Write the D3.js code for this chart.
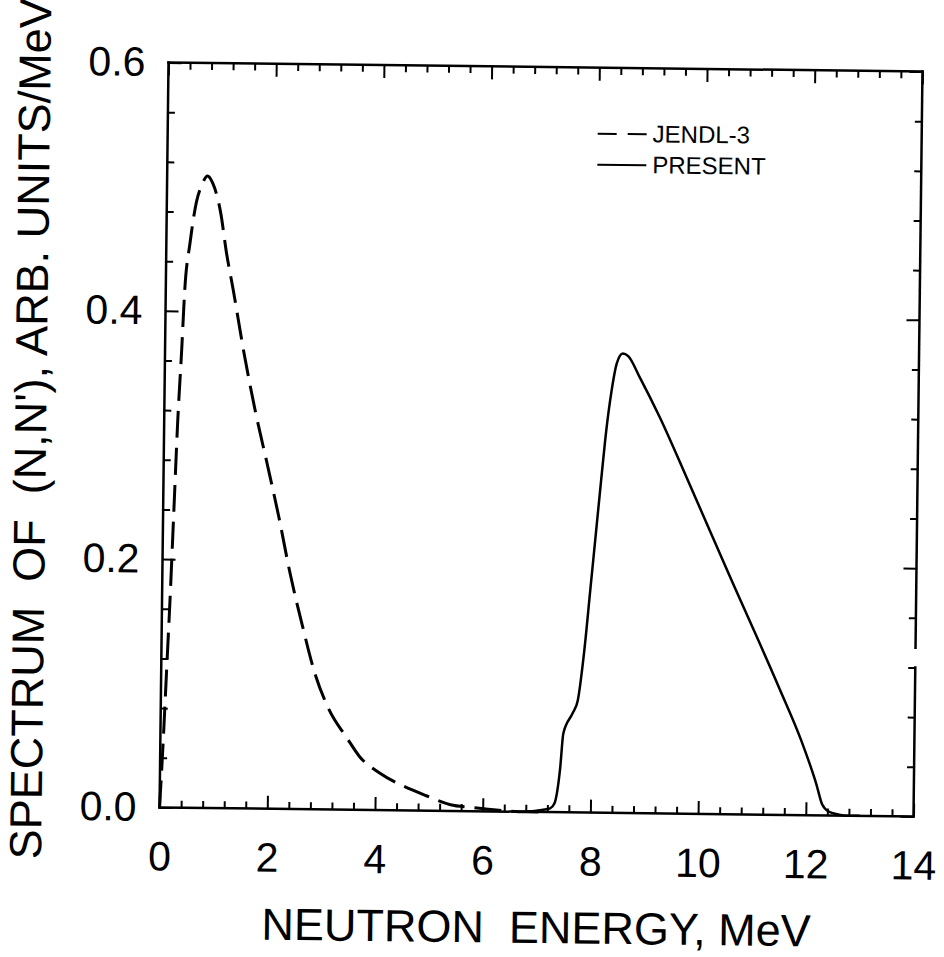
<!DOCTYPE html>
<html>
<head>
<meta charset="utf-8">
<script src="https://cdn.jsdelivr.net/npm/d3@7"></script>
<style>
  body { margin: 0; background: #fff; }
  text { font-family: "Liberation Sans", Arial, sans-serif; fill: #000; }
</style>
</head>
<body>
<div id="chart"></div>
<script>
// neutron energy (MeV) and spectrum values
const jendlE = [0, 0.05, 0.1, 0.15, 0.2, 0.25, 0.31, 0.35, 0.44, 0.55, 0.65, 0.75, 0.85, 1.0, 1.12, 1.25, 1.47, 1.7, 1.92, 2.15, 2.37, 2.61, 2.85, 3.13, 3.46, 3.7, 4.07, 4.5, 4.95, 5.4, 5.8, 6.3, 6.8, 7.2];
const jendlV = [0, 0.05, 0.11, 0.17, 0.24, 0.31, 0.37, 0.415, 0.455, 0.488, 0.502, 0.509, 0.503, 0.48, 0.447, 0.418, 0.366, 0.318, 0.278, 0.235, 0.19, 0.148, 0.11, 0.08, 0.058, 0.043, 0.03, 0.02, 0.012, 0.005, 0.003, 0.001, 0, 0];

const presentE = [6.8, 7.0, 7.15, 7.25, 7.33, 7.43, 7.48, 7.65, 7.74, 7.85, 7.95, 8.05, 8.13, 8.21, 8.3, 8.39, 8.5, 8.6, 8.82, 9.2, 9.71, 10.5, 11.48, 11.9, 12.19, 12.3, 12.43, 12.6, 12.75, 13.0];
const presentV = [0, 0.001, 0.002, 0.003, 0.007, 0.036, 0.0635, 0.08, 0.09, 0.13, 0.18, 0.23, 0.27, 0.308, 0.34, 0.362, 0.37, 0.368, 0.351, 0.319, 0.271, 0.195, 0.102, 0.06, 0.025, 0.009, 0.003, 0.001, 0, 0];

const xMajor = [0, 2, 4, 6, 8, 10, 12, 14];
const yMajor = [0, 0.2, 0.4, 0.6];
const legendLabels = ["JENDL-3", "PRESENT"];

window.onload = () => {
  const W = 944, H = 957;
  const left = 164, right = 918, top = 67, bottom = 812;

  const svg = d3.select("#chart").append("svg")
    .attr("width", W)
    .attr("height", H);

  // the scanned figure is tilted slightly clockwise
  const g = svg.append("g")
    .attr("transform", `rotate(0.69, 542, 440)`);

  const x = d3.scaleLinear().domain([0, 14]).range([left, right]);
  const y = d3.scaleLinear().domain([0, 0.6]).range([bottom, top]);

  const xMinor = d3.range(0, 14.001, 0.4).filter(v => Math.abs(v / 2 - Math.round(v / 2)) > 1e-6);
  const yMinor = d3.range(0, 0.6001, 0.04).filter(v => Math.abs(v / 0.2 - Math.round(v / 0.2)) > 1e-6);

  function styleAxis(sel) {
    sel.select(".domain").remove();
    sel.selectAll(".tick line").attr("stroke", "#000").attr("stroke-width", 2);
  }

  // bottom axis (labels + inward ticks)
  g.append("g")
    .attr("transform", `translate(0,${bottom})`)
    .call(d3.axisBottom(x).tickValues(xMajor).tickSize(-13).tickPadding(20).tickFormat(d3.format("d")))
    .call(styleAxis)
    .call(s => s.selectAll("text").attr("font-size", 41).attr("dy", 0).attr("y", 63));
  g.append("g")
    .attr("transform", `translate(0,${bottom})`)
    .call(d3.axisBottom(x).tickValues(xMinor).tickSize(-7).tickFormat(""))
    .call(styleAxis);

  // top axis
  g.append("g")
    .attr("transform", `translate(0,${top})`)
    .call(d3.axisTop(x).tickValues(xMajor).tickSize(-13).tickFormat(""))
    .call(styleAxis);
  g.append("g")
    .attr("transform", `translate(0,${top})`)
    .call(d3.axisTop(x).tickValues(xMinor).tickSize(-7).tickFormat(""))
    .call(styleAxis);

  // left axis
  g.append("g")
    .attr("transform", `translate(${left},0)`)
    .call(d3.axisLeft(y).tickValues(yMajor).tickSize(-13).tickPadding(23).tickFormat(d3.format(".1f")))
    .call(styleAxis)
    .call(s => s.selectAll("text").attr("font-size", 41));
  g.append("g")
    .attr("transform", `translate(${left},0)`)
    .call(d3.axisLeft(y).tickValues(yMinor).tickSize(-7).tickFormat(""))
    .call(styleAxis);

  // right axis
  g.append("g")
    .attr("transform", `translate(${right},0)`)
    .call(d3.axisRight(y).tickValues(yMajor).tickSize(-13).tickFormat(""))
    .call(styleAxis);
  g.append("g")
    .attr("transform", `translate(${right},0)`)
    .call(d3.axisRight(y).tickValues(yMinor).tickSize(-7).tickFormat(""))
    .call(styleAxis);

  // frame (right edge has a small break in the scan)
  const frame = [
    [[0, 0], [14, 0]],
    [[0, 0.6], [14, 0.6]],
    [[0, 0], [0, 0.6]],
    [[14, 0.6], [14, 0.136]],
    [[14, 0.12], [14, 0]]
  ];
  frame.forEach(seg => {
    g.append("line")
      .attr("x1", x(seg[0][0])).attr("y1", y(seg[0][1]))
      .attr("x2", x(seg[1][0])).attr("y2", y(seg[1][1]))
      .attr("stroke", "#000")
      .attr("stroke-width", 2.5)
      .attr("stroke-linecap", "square");
  });

  // curves
  const line = d3.line()
    .x(d => x(d[0]))
    .y(d => y(d[1]))
    .curve(d3.curveMonotoneX);

  g.append("path")
    .datum(jendlE.map((e, i) => [e, jendlV[i]]))
    .attr("d", line)
    .attr("fill", "none")
    .attr("stroke", "#000")
    .attr("stroke-width", 3)
    .attr("stroke-dasharray", "27,10");

  g.append("path")
    .datum(presentE.map((e, i) => [e, presentV[i]]))
    .attr("d", line)
    .attr("fill", "none")
    .attr("stroke", "#000")
    .attr("stroke-width", 2.5);

  // legend
  const legend = g.append("g").attr("transform", "translate(600,0)");
  legendLabels.forEach((lab, i) => {
    const yy = 133 + i * 31;
    legend.append("line")
      .attr("x1", -6).attr("x2", 43)
      .attr("y1", yy).attr("y2", yy)
      .attr("stroke", "#000")
      .attr("stroke-width", 2)
      .attr("stroke-dasharray", i === 0 ? "19,11" : null);
    legend.append("text")
      .attr("x", 49)
      .attr("y", yy + 8)
      .attr("font-size", 24)
      .text(lab);
  });

  // axis titles
  g.append("text")
    .attr("x", 542)
    .attr("y", 943)
    .attr("text-anchor", "middle")
    .attr("font-size", 45)
    .attr("xml:space", "preserve")
    .text("NEUTRON  ENERGY, MeV");

  g.append("text")
    .attr("transform", "translate(46,435) rotate(-90)")
    .attr("text-anchor", "middle")
    .attr("font-size", 45)
    .attr("xml:space", "preserve")
    .text("SPECTRUM  OF  (N,N'), ARB. UNITS/MeV");
};
</script>
</body>
</html>
